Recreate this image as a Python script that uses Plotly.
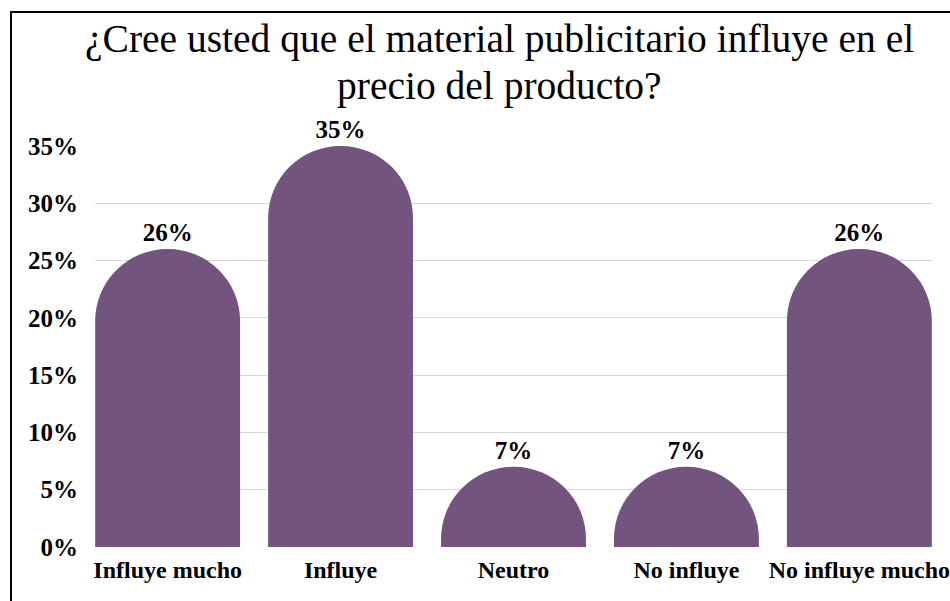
import plotly.graph_objects as go

categories = ["Influye mucho", "Influye", "Neutro", "No influye", "No influye mucho"]
values = [26, 35, 7, 7, 26]
y_ticks = [0, 5, 10, 15, 20, 25, 30, 35]
title_lines = ["¿Cree usted que el material publicitario influye en el", "precio del producto?"]

W, H = 950, 601
L, R, T, B = 95, 932, 146, 547
PW, PH = R - L, B - T

def px_x(x):
    return (x - L) / PW

def px_y(y):
    return (B - y) / PH

serif = "Liberation Serif, Times New Roman, serif"
bar_color = "#73547F"

fig = go.Figure(
    go.Bar(
        x=list(range(len(categories))),
        y=values,
        width=0.838,
        marker=dict(color=bar_color, cornerradius="50%", line=dict(width=0)),
        text=[f"{v}%" for v in values],
        textposition="outside",
        cliponaxis=False,
        textfont=dict(family=serif, size=25, color="black", weight="bold"),
        hoverinfo="skip",
    )
)

annotations = []
for line, cy in zip(title_lines, [39, 86]):
    annotations.append(dict(
        text=line, xref="paper", yref="paper",
        x=px_x(499), y=px_y(cy), xanchor="center", yanchor="middle",
        showarrow=False,
        font=dict(family=serif, size=39.5, color="black"),
    ))

fig.update_layout(
    width=W,
    height=H,
    margin=dict(l=L, r=W - R, t=T, b=H - B, pad=0),
    paper_bgcolor="white",
    plot_bgcolor="white",
    showlegend=False,
    annotations=annotations,
    xaxis=dict(
        tickmode="array",
        tickvals=list(range(len(categories))),
        ticktext=categories,
        range=[-0.42, len(categories) - 1 + 0.42],
        showgrid=False,
        showline=False,
        zeroline=False,
        ticks="",
        ticklabelstandoff=6,
        ticklabeloverflow="allow",
        automargin=False,
        tickfont=dict(family=serif, size=24, color="black", weight="bold"),
    ),
    yaxis=dict(
        range=[0, 35],
        tickmode="array",
        tickvals=y_ticks,
        ticktext=[f"{t}%" for t in y_ticks],
        showgrid=True,
        gridcolor="#D9D9D9",
        gridwidth=1,
        zeroline=False,
        showline=False,
        ticks="",
        ticklabelstandoff=16,
        automargin=False,
        tickfont=dict(family=serif, size=25, color="black", weight="bold"),
    ),
    shapes=[
        dict(type="line", xref="paper", yref="paper",
             x0=px_x(11), x1=px_x(11), y0=px_y(11), y1=px_y(H + 2),
             line=dict(color="black", width=2)),
        dict(type="line", xref="paper", yref="paper",
             x0=px_x(10), x1=px_x(W + 2), y0=px_y(12), y1=px_y(12),
             line=dict(color="black", width=2)),
    ],
)

fig.write_html("out.html")
